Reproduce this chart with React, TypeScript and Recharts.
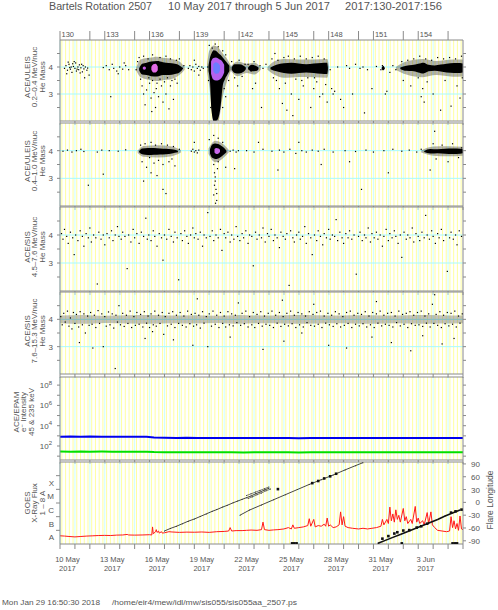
import React from 'react';
import { ComposedChart, Scatter, Area, Line, XAxis, YAxis, ReferenceLine } from 'recharts';

const FRAME = '#8a8a8a';
const TXT = '#555555';
const FONT = '"Liberation Sans", "DejaVu Sans", Arial, sans-serif';

// ---------- axis categories / tick labels ----------
const dayTicks = [130,131,132,133,134,135,136,137,138,139,140,141,142,143,144,145,146,147,148,149,150,151,152,153,154,155,156,157];
const topTickDays = [130,132,133,135,136,138,139,141,142,144,145,147,148,150,151,153,154,156];
const topLabelDays = [130,133,136,139,142,145,148,151,154];
const dateLabelDays = [130.5,133.5,136.5,139.5,142.5,145.5,148.5,151.5,154.5];
const dateLabelText = ['10 May','13 May','16 May','19 May','22 May','25 May','28 May','31 May','3 Jun'];
const massTicks = [2.5,3,3.5,4,4.5];
const massLabels = [3,4];
const epamTicks = [1e1,1e2,1e3,1e4,1e5,1e6,1e7,1e8];
const goesTicks = [0.5,1,1.5,2,2.5,3,3.5,4,4.5,5,5.5];
const goesLetterPos = [0.5,1.5,2.5,3.5,4.5];
const goesLetters = ['A','B','C','M','X'];
const lonTicks = [-90,-60,-30,0,30,60,90];

// background stripes (6-hourly yellow, daily cyan)
const yellowStripes: number[] = [];
const cyanStripes: number[] = [];
dayTicks.slice(0, 27).forEach((d) => {
  cyanStripes.push(d);
  [0.125, 0.375, 0.625, 0.875].forEach((f) => yellowStripes.push(d + f));
});

// ---------- Panel 1: ACE/ULEIS 0.2-0.4 MeV/nuc ----------
const ul1Cloud136 = [[135.3,3.88,3.95],[135.5,3.72,4.12],[135.8,3.7,4.16],[136.1,3.66,4.2],[136.5,3.65,4.22],[136.9,3.7,4.18],[137.3,3.7,4.15],[137.7,3.74,4.12],[138.0,3.8,4.06],[138.2,3.9,3.97]];
const ul1Halo136 = [[135.1,3.88,3.98],[135.4,3.62,4.28],[136.0,3.52,4.34],[136.5,3.48,4.38],[137.0,3.52,4.33],[137.5,3.56,4.3],[138.0,3.7,4.2],[138.35,3.9,4.0]];
const ul1Pink136 = [[136.12,3.9,4.0],[136.25,3.8,4.1],[136.4,3.8,4.12],[136.55,3.88,4.02]];
const ul1Pink135 = [[135.55,3.93,3.99],[135.65,3.9,4.02],[135.75,3.93,3.99]];
const ul1Cloud140 = [[139.95,3.85,4.05],[140.05,3.45,4.35],[140.15,2.4,4.5],[140.3,2.0,4.62],[140.45,2.0,4.6],[140.6,2.1,4.52],[140.75,2.5,4.45],[140.9,3.3,4.35],[141.05,3.55,4.25],[141.2,3.7,4.15],[141.35,3.85,4.05]];
const ul1Halo140 = [[139.85,3.85,4.08],[140.0,3.3,4.6],[140.3,2.0,4.8],[140.6,2.0,4.72],[140.9,2.9,4.5],[141.2,3.5,4.3],[141.45,3.86,4.05]];
const ul1Violet140 = [[140.12,3.75,4.2],[140.25,3.55,4.32],[140.45,3.5,4.35],[140.65,3.52,4.3],[140.85,3.62,4.22],[141.0,3.8,4.08]];
const ul1Blue140 = [[140.27,3.85,4.1],[140.42,3.75,4.18],[140.58,3.76,4.15],[140.72,3.88,4.05]];
const ul1Cloud142 = [[141.5,3.9,3.98],[141.7,3.78,4.1],[142.0,3.76,4.1],[142.3,3.82,4.05],[142.45,3.92,3.98]];
const ul1Cloud143 = [[142.6,3.92,3.98],[142.85,3.84,4.08],[143.1,3.85,4.05],[143.3,3.92,3.98]];
const ul1Halo142 = [[141.4,3.9,3.99],[141.9,3.66,4.2],[142.5,3.78,4.12],[143.0,3.72,4.16],[143.45,3.9,4.0]];
const ul1Cloud146 = [[144.1,3.92,3.98],[144.5,3.84,4.08],[145.0,3.78,4.14],[145.5,3.75,4.16],[146.0,3.78,4.13],[146.5,3.8,4.1],[147.0,3.78,4.13],[147.5,3.75,4.15],[147.9,3.74,4.16],[147.95,3.9,3.98]];
const ul1Halo146 = [[143.9,3.9,4.0],[144.4,3.7,4.22],[145.0,3.6,4.3],[146.0,3.63,4.28],[147.0,3.62,4.28],[147.9,3.6,4.3],[148.02,3.86,4.04]];
const ul1Cloud151 = [[151.55,3.93,3.97],[151.65,3.88,4.05],[151.75,3.93,3.98]];
const ul1Cloud155 = [[152.8,3.93,3.98],[153.2,3.86,4.05],[153.6,3.85,4.07],[154.0,3.8,4.12],[154.35,3.76,4.16],[154.7,3.84,4.08],[155.1,3.86,4.06],[155.5,3.83,4.09],[155.9,3.8,4.12],[156.4,3.78,4.15],[156.8,3.78,4.15],[157.0,3.8,4.13]];
const ul1Halo155 = [[152.5,3.9,4.0],[153.2,3.72,4.2],[154.3,3.62,4.3],[155.2,3.7,4.22],[156.3,3.64,4.28],[157.0,3.65,4.28]];
const ul1Points = [
  [130.3,3.95],[130.4,4.05],[130.5,3.88],[130.6,4.1],[130.7,3.92],[130.75,4.0],[130.8,3.8],[130.9,4.02],[131.0,3.95],[131.05,4.15],[131.1,3.85],[131.2,4.0],[131.25,3.9],[131.3,4.08],[131.4,3.97],[131.5,3.82],[131.55,4.05],[131.6,3.93],[131.7,4.0],[131.8,3.88],[130.45,3.75],[130.95,4.2],[131.35,3.78],[131.15,3.92],[130.65,3.98],[130.85,4.12],[131.45,4.1],[131.85,3.96],[131.95,3.7],[130.55,4.18],[131.65,3.6],
  [132.9,3.98],[133.1,4.05],[133.3,3.9],[133.5,4.1],[133.6,3.95],[133.8,3.85],[134.0,4.0],[134.2,3.92],[134.4,4.05],[134.6,3.9],[133.4,2.9],[134.3,4.15],[133.9,3.75],
  [135.1,3.9],[135.2,4.2],[135.3,4.35],[135.6,4.4],[135.9,4.3],[136.2,4.45],[136.7,4.35],[137.1,4.4],[137.4,4.3],[137.8,4.25],[138.0,4.3],[138.2,3.95],[138.3,4.05],
  [135.5,3.3],[135.6,3.0],[135.7,2.6],[135.8,3.15],[136.0,3.4],[136.1,2.85],[136.2,3.5],[136.3,3.05],[136.4,2.5],[136.45,3.2],[136.5,3.4],[136.6,2.9],[136.7,3.55],[136.8,3.3],[136.9,2.7],[137.0,3.45],[137.1,3.0],[137.2,3.6],[137.3,2.45],[137.4,3.3],[137.5,3.5],[137.6,2.8],[137.7,3.55],[136.15,2.35],[135.95,3.6],[136.55,3.7],[137.85,3.4],[135.4,3.55],
  [138.6,3.95],[138.7,4.05],[138.8,3.9],[138.9,4.0],[139.0,3.85],[139.1,4.1],[139.2,3.95],[139.3,4.02],[139.4,3.88],[139.5,4.0],[139.6,3.95],[139.0,4.25],[139.3,3.7],
  [140.0,4.8],[140.2,4.7],[140.4,4.85],[140.6,4.75],[140.9,4.6],[141.1,4.45],[139.9,4.0],[139.95,3.5],[141.0,3.2],[141.1,2.9],[140.1,2.5],[141.3,3.5],[140.9,2.5],
  [141.5,4.2],[141.7,3.6],[142.0,4.25],[142.2,3.65],[142.4,4.1],[141.9,3.3],
  [142.6,4.1],[142.8,3.85],[143.0,4.2],[143.2,3.9],[143.4,4.05],[143.6,3.95],[143.8,4.1],[143.5,2.5],[143.1,3.4],[142.9,3.2],
  [144.2,4.3],[144.6,4.25],[145.0,4.35],[145.3,4.4],[145.7,4.3],[146.1,4.4],[146.5,4.3],[146.9,4.35],[147.3,4.4],[147.7,4.3],
  [144.5,3.5],[144.7,3.2],[144.9,2.65],[145.1,3.4],[145.2,2.4],[145.5,3.0],[145.8,3.55],[146.0,2.8],[146.3,3.3],[146.6,3.6],[146.8,2.5],[147.0,3.2],[147.2,3.45],[147.4,2.9],[147.6,3.0],[147.8,3.35],[147.9,2.7],[145.6,2.2],[146.2,3.5],[147.05,3.6],[144.3,3.6],[144.4,4.5],
  [148.1,3.9],[148.3,3.0],[148.4,3.1],[148.6,4.0],[148.8,2.8],[149.2,4.05],[149.4,3.95],[149.6,3.0],[149.8,4.1],[150.1,3.95],[150.3,4.0],[150.6,3.9],[150.9,3.2],[151.2,4.02],[151.5,3.9],[151.6,4.05],[151.7,3.95],[151.8,3.0],[151.9,3.1],[152.1,3.8],[152.3,4.05],[152.5,3.9],[149.0,2.5],[150.4,2.3],[148.2,3.2],
  [152.9,4.2],[153.3,4.25],[153.7,4.3],[154.1,4.4],[154.5,4.3],[154.9,4.25],[155.3,4.35],[155.7,4.3],[156.1,4.35],[156.5,4.3],[156.9,4.4],
  [153.0,3.5],[153.5,3.3],[154.0,3.6],[154.2,2.9],[154.3,3.2],[154.4,2.7],[154.6,3.45],[155.0,3.0],[155.5,2.4],[155.8,3.5],[156.2,2.55],[156.6,3.3],[156.8,2.85],[156.95,3.6],
];

// ---------- Panel 2: ACE/ULEIS 0.4-1.0 MeV/nuc ----------
const ul2Cloud136 = [[135.3,3.94,3.99],[135.5,3.87,4.08],[135.9,3.84,4.1],[136.3,3.85,4.1],[136.7,3.86,4.08],[137.1,3.87,4.07],[137.5,3.9,4.05],[137.9,3.94,4.0]];
const ul2Halo136 = [[135.2,3.92,4.01],[135.6,3.78,4.17],[136.5,3.75,4.2],[137.5,3.8,4.15],[138.1,3.93,4.02]];
const ul2Cloud140 = [[140.05,3.9,4.05],[140.2,3.74,4.22],[140.4,3.7,4.26],[140.6,3.72,4.24],[140.8,3.78,4.18],[141.0,3.87,4.1],[141.15,3.94,4.0]];
const ul2Halo140 = [[139.95,3.88,4.08],[140.4,3.58,4.36],[140.9,3.72,4.25],[141.3,3.93,4.03]];
const ul2Violet140 = [[140.35,3.93,4.06],[140.48,3.88,4.1],[140.62,3.9,4.08],[140.72,3.95,4.03]];
const ul2Cloud155 = [[154.4,3.95,3.99],[154.8,3.9,4.06],[155.3,3.91,4.05],[155.8,3.89,4.07],[156.3,3.88,4.08],[156.8,3.89,4.07],[157.0,3.91,4.05]];
const ul2Halo155 = [[154.2,3.93,4.01],[155.0,3.82,4.15],[156.0,3.8,4.16],[157.0,3.82,4.14]];
const ul2Points = [
  [130.2,3.98],[130.5,4.02],[130.8,3.95],[131.1,4.0],[131.6,3.97],[132.5,3.95],[132.8,4.02],[133.3,4.0],[133.9,3.98],[134.4,4.03],[131.9,2.75],[132.9,3.15],[131.4,4.05],
  [135.4,4.2],[135.7,4.25],[136.1,4.3],[136.4,4.2],[136.8,4.25],[137.2,4.2],[137.6,4.15],[138.0,4.05],[135.5,3.6],[135.8,3.4],[136.0,3.75],[136.3,3.55],[136.5,3.1],[136.6,3.65],[136.9,3.5],[137.3,3.6],[137.5,3.7],[137.7,3.45],[135.6,2.9],[136.9,2.6],[137.1,2.45],[136.1,3.2],
  [138.8,3.98],[138.9,4.05],[139.0,3.95],[139.1,4.0],[139.2,3.92],[139.3,4.02],[139.0,4.3],
  [140.0,4.4],[140.3,4.55],[140.6,4.45],[140.9,4.3],[140.3,3.5],[140.35,3.2],[140.4,2.9],[140.45,2.6],[140.3,2.4],[140.5,2.2],[140.55,3.35],[140.4,3.05],[140.35,2.75],[140.6,3.6],[141.1,3.4],[140.42,2.1],[140.5,2.45],
  [141.4,3.98],[141.6,4.02],[141.8,3.95],[141.95,4.0],[141.7,3.35],
  [142.5,4.0],[143.0,3.95],[143.6,4.05],[144.2,3.98],[144.7,4.02],[145.0,3.95],[145.4,4.05],[145.8,3.9],[146.2,4.0],[146.5,3.95],[146.9,4.02],[147.3,3.98],[147.7,4.05],[148.3,3.95],[149.1,4.0],[149.8,3.97],[150.5,4.02],[151.0,3.95],[151.7,4.0],[152.3,4.05],[152.9,3.98],[153.4,4.02],[153.9,3.95],[154.2,4.05],
  [155.0,4.25],[155.6,4.2],[156.3,4.25],[155.2,3.7],[156.0,3.6],[156.7,3.75],[154.8,3.3],[144.6,3.3],[150.2,2.6],[147.5,3.5],[143.3,4.3],[152.0,3.2],[146.0,4.3],[149.4,3.6],[156.9,4.1],[155.1,4.7],
];

// ---------- Panel 3: ACE/SIS 4.5-7.6 MeV/nuc ----------
const sis1Points = [
  [130.1,4.05],[130.2,3.85],[130.3,4.2],[130.45,3.95],[130.55,3.7],[130.7,4.1],[130.85,3.9],[130.95,3.3],
  [131.05,4.0],[131.2,3.8],[131.35,4.15],[131.5,3.95],[131.6,3.6],[131.75,4.05],[131.9,3.9],
  [132.0,4.25],[132.1,3.75],[132.25,4.0],[132.4,3.9],[132.5,2.25],[132.6,4.1],[132.75,3.85],[132.9,4.0],
  [133.0,3.65],[133.15,4.05],[133.3,3.9],[133.45,4.15],[133.55,3.8],[133.7,4.0],[133.85,4.3],[133.95,3.95],
  [134.1,3.85],[134.2,4.1],[134.35,3.95],[134.5,2.8],[134.6,4.0],[134.75,3.75],[134.9,4.2],
  [135.0,3.9],[135.15,4.05],[135.3,3.7],[135.45,4.1],[135.6,3.95],[135.75,4.6],[135.85,3.85],[135.95,4.0],
  [136.1,3.8],[136.25,4.15],[136.35,3.95],[136.5,3.6],[136.65,4.05],[136.8,3.9],[136.9,3.1],
  [137.0,4.0],[137.15,3.85],[137.3,4.2],[137.45,3.95],[137.6,3.75],[137.7,4.1],[137.85,3.9],[137.95,2.4],
  [138.1,4.05],[138.2,3.8],[138.35,4.15],[138.5,3.95],[138.6,3.7],[138.75,4.0],[138.9,4.25],
  [139.0,3.9],[139.1,4.05],[139.25,3.85],[139.4,4.1],[139.55,3.6],[139.65,4.0],[139.8,3.9],[139.9,4.8],
  [140.05,3.95],[140.2,4.15],[140.3,3.8],[140.45,4.0],[140.6,3.9],[140.75,4.2],[140.85,3.45],
  [141.0,4.05],[141.1,3.9],[141.25,4.1],[141.4,3.75],[141.5,4.0],[141.65,3.85],[141.8,4.3],[141.9,3.95],
  [142.05,3.8],[142.2,4.05],[142.3,3.9],[142.45,4.15],[142.6,3.7],[142.7,4.0],[142.85,3.95],[142.95,2.9],
  [143.1,4.1],[143.2,3.85],[143.35,4.0],[143.5,3.9],[143.6,4.25],[143.75,3.75],[143.9,4.05],
  [144.0,3.95],[144.15,4.2],[144.3,3.8],[144.4,4.0],[144.55,3.9],[144.7,3.55],[144.8,4.1],[144.95,3.95],
  [145.1,3.85],[145.2,4.05],[145.35,2.2],[145.45,4.15],[145.6,3.9],[145.7,3.75],[145.85,4.0],
  [146.0,4.1],[146.1,3.85],[146.25,3.95],[146.4,4.3],[146.5,3.7],[146.65,4.05],[146.8,3.9],[146.9,3.3],
  [147.05,4.0],[147.2,3.8],[147.3,4.15],[147.45,3.95],[147.6,3.65],[147.7,4.05],[147.85,3.9],
  [148.0,4.2],[148.1,3.85],[148.25,4.0],[148.4,3.95],[148.5,4.55],[148.6,3.8],[148.75,4.1],[148.9,3.9],
  [149.0,3.7],[149.15,4.05],[149.3,3.9],[149.4,4.15],[149.55,3.85],[149.7,4.0],[149.85,2.6],
  [150.0,3.95],[150.1,4.1],[150.25,3.8],[150.4,4.0],[150.5,3.9],[150.65,4.25],[150.8,3.75],[150.9,4.05],
  [151.05,3.9],[151.2,4.1],[151.3,3.85],[151.45,4.0],[151.6,3.6],[151.7,3.95],[151.85,4.2],
  [152.0,3.8],[152.1,4.05],[152.25,3.9],[152.4,4.15],[152.5,3.95],[152.65,3.7],[152.8,4.0],[152.9,3.2],
  [153.05,4.1],[153.2,3.85],[153.3,4.0],[153.45,3.9],[153.6,4.25],[153.7,3.75],[153.85,4.05],
  [154.0,3.95],[154.1,3.8],[154.25,4.1],[154.4,3.9],[154.5,4.7],[154.6,4.0],[154.75,3.85],[154.9,4.15],
  [155.0,3.95],[155.15,3.7],[155.3,4.05],[155.4,3.9],[155.55,4.2],[155.7,3.8],[155.85,4.0],[155.95,2.7],
  [156.1,3.9],[156.2,4.1],[156.35,3.85],[156.5,4.0],[156.6,3.65],[156.75,4.15],[156.9,3.95],
];

// ---------- Panel 4: ACE/SIS 7.6-15.3 MeV/nuc ----------
const sis2Band = [[130,3.86,4.14],[131.5,3.84,4.16],[133,3.87,4.13],[134.5,3.85,4.15],[136,3.84,4.16],[137.5,3.86,4.14],[139,3.85,4.15],[140.5,3.87,4.13],[142,3.84,4.16],[143.5,3.86,4.14],[145,3.85,4.15],[146.5,3.84,4.16],[148,3.86,4.14],[149.5,3.85,4.15],[151,3.84,4.15],[152.5,3.86,4.14],[154,3.84,4.16],[155.5,3.85,4.15],[157,3.86,4.14]];
const sis2Points = [
  [130.05,4.1],[130.15,3.8],[130.25,4.22],[130.35,3.9],[130.5,4.3],[130.6,3.75],[130.7,4.05],[130.8,3.65],[130.9,4.25],
  [131.0,3.85],[131.1,4.18],[131.25,3.72],[131.35,4.28],[131.5,3.8],[131.6,4.2],[131.7,3.5],[131.85,4.12],[131.95,3.78],
  [132.05,4.25],[132.15,3.82],[132.3,4.15],[132.4,3.7],[132.55,4.32],[132.65,3.85],[132.8,4.2],[132.9,3.0],
  [133.0,4.1],[133.1,3.75],[133.25,4.27],[133.35,3.8],[133.5,4.2],[133.6,3.68],[133.75,4.15],[133.85,3.9],[133.95,4.5],
  [134.05,3.8],[134.2,4.22],[134.3,3.74],[134.45,4.15],[134.55,3.85],[134.7,4.3],[134.8,3.7],[134.95,4.1],
  [135.05,3.78],[135.15,4.25],[135.3,3.82],[135.4,4.18],[135.55,3.72],[135.65,4.28],[135.8,3.86],[135.9,4.12],
  [136.0,3.7],[136.1,4.2],[136.25,3.8],[136.35,4.3],[136.45,3.75],[136.6,4.15],[136.7,3.85],[136.85,4.25],[136.95,3.45],
  [137.05,4.1],[137.2,3.76],[137.3,4.22],[137.45,3.82],[137.55,4.28],[137.7,3.7],[137.8,4.15],[137.95,3.85],
  [138.05,4.25],[138.2,3.78],[138.3,4.12],[138.45,3.72],[138.55,4.3],[138.7,3.84],[138.8,4.18],[138.95,3.75],
  [139.05,4.22],[139.15,3.8],[139.3,4.15],[139.4,3.68],[139.55,4.28],[139.65,3.86],[139.8,4.1],[139.9,3.0],
  [140.0,4.2],[140.15,3.75],[140.25,4.3],[140.4,3.82],[140.5,4.15],[140.65,3.7],[140.75,4.25],[140.9,3.85],
  [141.0,4.12],[141.1,3.72],[141.25,4.28],[141.35,3.8],[141.5,4.2],[141.6,3.76],[141.75,4.15],[141.85,3.88],[141.95,4.6],
  [142.1,3.78],[142.2,4.22],[142.35,3.84],[142.45,4.3],[142.6,3.72],[142.7,4.1],[142.85,3.8],[142.95,4.25],
  [143.05,3.7],[143.2,4.18],[143.3,3.85],[143.45,4.28],[143.55,3.75],[143.7,4.12],[143.8,3.82],[143.95,4.22],
  [144.05,3.78],[144.2,4.3],[144.3,3.7],[144.45,4.15],[144.55,3.86],[144.7,4.25],[144.8,3.74],[144.95,4.1],
  [145.05,3.82],[145.2,4.22],[145.3,3.76],[145.45,4.3],[145.55,3.84],[145.7,4.15],[145.8,3.7],[145.95,4.25],
  [146.05,3.8],[146.2,4.2],[146.3,3.72],[146.45,4.12],[146.55,3.88],[146.7,4.28],[146.8,3.78],[146.95,4.18],
  [147.05,3.75],[147.2,4.25],[147.3,3.82],[147.45,4.3],[147.55,3.7],[147.7,4.12],[147.8,3.86],[147.95,4.22],
  [148.05,3.8],[148.2,4.15],[148.3,3.74],[148.45,4.28],[148.55,3.84],[148.7,4.2],[148.8,3.72],[148.95,4.1],
  [149.05,3.78],[149.2,4.25],[149.3,3.85],[149.45,4.3],[149.55,3.7],[149.7,4.15],[149.8,3.82],[149.95,4.22],
  [150.05,3.76],[150.2,4.18],[150.3,3.84],[150.45,4.28],[150.55,3.72],[150.7,4.12],[150.8,3.8],[150.95,4.25],
  [151.05,3.7],[151.2,4.2],[151.3,3.86],[151.45,4.3],[151.55,3.76],[151.7,4.15],[151.8,3.82],[151.95,4.22],
  [152.05,3.78],[152.2,4.25],[152.3,3.72],[152.45,4.12],[152.55,3.88],[152.7,4.3],[152.8,3.76],[152.95,4.18],
  [153.05,3.82],[153.2,4.22],[153.3,3.7],[153.45,4.28],[153.55,3.84],[153.7,4.15],[153.8,3.78],[153.95,4.25],
  [154.05,3.8],[154.2,4.3],[154.3,3.74],[154.45,4.12],[154.55,3.86],[154.7,4.2],[154.8,3.72],[154.95,4.55],
  [155.05,3.85],[155.2,4.18],[155.3,3.78],[155.45,4.28],[155.55,3.7],[155.7,4.15],[155.8,3.84],[155.95,4.25],
  [156.05,3.76],[156.2,4.22],[156.3,3.82],[156.45,4.3],[156.55,3.72],[156.7,4.12],[156.8,3.86],[156.95,4.2],
  [131.3,3.15],[132.2,2.95],[135.7,3.3],[137.6,3.25],[138.9,3.05],[141.4,3.35],[143.6,2.9],[145.0,3.2],[146.2,3.5],[148.0,3.05],[149.2,2.95],[150.9,3.35],[152.2,3.15],[153.5,2.85],[154.3,3.4],[155.6,3.1],[156.4,3.3],[139.2,4.75],[144.9,4.7],[151.2,4.65],[155.1,4.9],[147.0,4.55],[133.7,2.2],[136.2,3.55],
];

// ---------- Panel 5: ACE/EPAM electrons ----------
const epamDays = [130,130.7,131.4,132,132.8,133.5,134.2,135,135.8,136.3,137,137.8,138.5,139.2,140,140.8,141.5,142.3,143,143.8,144.5,145.3,146,146.8,147.5,148.3,149,149.8,150.5,151.3,152,152.8,153.5,154.3,155,155.8,156.5,157];
const epam45 = [830,850,820,840,815,830,820,825,800,700,650,630,640,615,630,610,620,600,610,620,600,610,595,605,615,600,610,620,605,610,620,600,615,625,605,615,610,605];
const epam235 = [28,27.5,28,27,28,27.5,27,27.5,27,25,24.5,24,24.5,24,24.5,24,24,23.5,24,24.5,24,24,23.5,24,24.5,24,24,24.5,24,24,24.5,24,24,24.5,24,24,24,24];

// ---------- Panel 6: GOES X-ray (decade index above 1e-9) and flare longitudes ----------
const xrayFlux = [
  [130.0,0.6],[130.3,0.58],[130.6,0.55],[131.0,0.52],[131.4,0.55],[131.8,0.58],[132.2,0.6],[132.6,0.62],[133.0,0.63],[133.4,0.62],[133.8,0.65],[134.2,0.66],[134.5,0.7],[134.6,0.66],[135.0,0.65],[135.5,0.66],[136.0,0.68],[136.15,0.66],[136.2,1.25],[136.25,0.75],[136.4,0.9],[136.45,1.05],[136.5,0.85],[136.6,0.95],[136.65,0.8],[136.8,0.9],[136.85,0.8],[137.0,0.82],[137.3,0.9],[137.5,0.88],[138.0,0.85],[138.5,0.87],[139.0,0.86],[139.5,0.88],[140.0,0.85],[140.5,0.9],[141.0,0.92],[141.3,0.95],[141.4,1.2],[141.5,0.95],[141.8,0.98],[142.2,0.98],[142.5,1.0],[142.8,1.02],[143.2,1.0],[143.5,1.05],[143.6,1.6],[143.7,1.05],[144.0,1.0],[144.3,1.03],[144.6,1.05],[145.0,1.1],[145.3,1.2],[145.5,1.1],[145.6,1.4],[145.7,1.15],[146.0,1.2],[146.3,1.25],[146.6,1.35],[146.7,1.85],[146.8,1.3],[147.0,1.8],[147.1,1.25],[147.3,1.35],[147.5,1.3],[147.7,1.45],[147.8,1.3],[147.9,1.9],[148.0,1.3],[148.1,1.4],[148.3,1.2],[148.5,1.25],[148.7,1.4],[148.8,2.35],[148.9,1.4],[149.0,2.0],[149.1,1.3],[149.3,1.2],[149.6,1.15],[150.0,1.1],[150.3,1.15],[150.6,1.1],[150.9,1.15],[151.2,1.2],[151.5,1.3],[151.6,1.8],[151.7,1.4],[151.9,1.8],[152.0,1.5],[152.1,2.7],[152.2,1.7],[152.3,2.2],[152.4,1.6],[152.5,2.5],[152.6,1.8],[152.7,2.1],[152.8,1.6],[153.0,2.6],[153.1,1.7],[153.2,2.0],[153.3,1.5],[153.5,1.8],[153.6,1.5],[153.8,2.75],[153.9,1.6],[154.0,1.9],[154.1,1.5],[154.3,1.7],[154.4,1.4],[154.6,2.3],[154.7,1.5],[154.85,2.35],[154.95,1.4],[155.1,1.2],[155.3,1.0],[155.6,0.95],[155.9,0.9],[156.1,0.95],[156.2,2.0],[156.3,1.2],[156.4,1.7],[156.5,1.1],[156.6,1.5],[156.7,1.0],[156.8,2.05],[156.9,1.1],[157.0,1.05],
];
const flareTrackA = [[137.0,-67],[137.4,-61],[137.8,-56],[138.2,-50],[138.6,-44],[139.0,-39],[139.4,-33],[139.8,-27],[140.2,-21],[140.5,-17],[140.9,-11],[141.2,-7],[141.6,-1],[141.9,3],[142.2,7],[142.5,11],[142.8,15],[143.1,20],[143.4,24],[143.7,29],[144.0,33]];
const flareTrackA2 = [[142.5,16],[142.8,20],[143.1,24],[143.4,28],[143.7,32],[144.0,36]];
const flareTrackA3 = [[142.6,9],[142.9,13],[143.2,18],[143.5,22],[143.8,27],[144.1,31]];
const flareTrackB = [[142.06,-30],[142.7,-18],[143.5,-6],[144.3,6],[145.1,18],[145.9,30],[146.7,42],[147.5,53],[148.3,64],[149.1,76],[149.8,86],[150.3,93]];
const flareTrackC = [[151.3,-96],[151.8,-89],[152.3,-82],[152.8,-75],[153.3,-68],[153.8,-61],[154.3,-54],[154.8,-47],[155.3,-40],[155.8,-32],[156.3,-25],[156.8,-18]];
const flareBlobs = [[144.6,31],[146.9,45],[147.3,50],[147.7,56],[148.1,61],[148.5,67],[151.6,-85],[152.0,-79],[152.4,-73],[152.6,-70],[153.0,-66],[153.4,-65],[153.9,-59],[154.2,-56],[154.6,-50],[156.2,-24],[156.5,-21],[156.9,-17],[145.55,-96],[145.7,-96],[145.85,-96],[152.9,-96],[156.3,-96],[156.45,-96],[156.6,-96]];

// ---------- helpers ----------
const toPts = (arr: number[][]) => arr.map(([d, v]) => ({ d, v }));
function mergeBands(parts: [string, number[][]][]) {
  const rows: any[] = [];
  parts.forEach(([k, arr]) => arr.forEach(([d, lo, hi]) => rows.push({ d, [k]: [lo, hi] })));
  rows.sort((a, b) => a.d - b.d);
  return rows;
}
const NoLabel = () => <g />;
const dot = (p: any) => <rect x={p.cx - 0.6} y={p.cy - 0.6} width={1.2} height={1.2} fill="#000" />;
const bigDot = (p: any) => <rect x={p.cx - 1.3} y={p.cy - 1.3} width={2.6} height={2.6} fill="#111" />;
const tinyDot = (p: any) => <circle cx={p.cx} cy={p.cy} r={0.5} fill="#222" />;

function bgLayer(yDomain: number[], scale: any, hLines: number[]) {
  return [
    <XAxis key="bx" dataKey="d" type="number" domain={[130, 157]} allowDataOverflow hide />,
    <YAxis key="by" type="number" scale={scale} domain={yDomain} allowDataOverflow hide />,
    ...cyanStripes.map((d) => <ReferenceLine key={'c' + d} x={d} stroke="#cdffff" strokeWidth={1} />),
    ...yellowStripes.map((d) => <ReferenceLine key={'y' + d} x={d} stroke="#ffffa0" strokeWidth={1} />),
    ...hLines.map((v) => <ReferenceLine key={'h' + v} y={v} stroke="#a8fbff" strokeWidth={1} />),
  ];
}

const TopTick = (props: any) => {
  const { x, y, payload } = props;
  const d = payload.value;
  return (
    <g>
      <line x1={x} x2={x} y1={y} y2={y - 9} stroke={FRAME} />
      {topLabelDays.includes(d) && (
        <text x={x + 1.5} y={y - 3.5} fontSize={7.5} fill={TXT} fontFamily={FONT}>{d}</text>
      )}
    </g>
  );
};

const DateTick = (props: any) => {
  const { x, y, payload } = props;
  const i = dateLabelDays.indexOf(payload.value);
  if (i < 0) return <line x1={x} x2={x} y1={y} y2={y + 5} stroke={FRAME} />;
  return (
    <g>
      <text x={x} y={y + 18} fontSize={7.5} fill={TXT} fontFamily={FONT} textAnchor="middle">{dateLabelText[i]}</text>
      <text x={x} y={y + 26.5} fontSize={7.5} fill={TXT} fontFamily={FONT} textAnchor="middle">2017</text>
    </g>
  );
};

const EpamTick = (props: any) => {
  const { x, y, payload } = props;
  const e = Math.round(Math.log10(payload.value));
  if (e % 2 !== 0) return <g />;
  return (
    <text x={x} y={y + 3} textAnchor="end" fontSize={8} fill={TXT} fontFamily={FONT}>
      10<tspan dy={-3.5} fontSize={6}>{e}</tspan>
    </text>
  );
};

const GoesTick = (props: any) => {
  const { x, y, payload } = props;
  const v = payload.value;
  const i = goesLetterPos.indexOf(v);
  if (i >= 0)
    return (
      <text x={x - 6} y={y + 3} textAnchor="end" fontSize={8} fill={TXT} fontFamily={FONT}>{goesLetters[i]}</text>
    );
  if (Number.isInteger(v)) return <line x1={x - 4} x2={x} y1={y} y2={y} stroke={FRAME} />;
  return <g />;
};

const LonTick = (props: any) => {
  const { x, y, payload } = props;
  return (
    <g>
      <line x1={x} x2={x + 3} y1={y} y2={y} stroke={FRAME} />
      <text x={x + 17} y={y + 3} textAnchor="end" fontSize={8} fill={TXT} fontFamily={FONT}>{payload.value}</text>
    </g>
  );
};

function xAxes(bottomTick: any, bottomTicks: number[], topTick: any) {
  return [
    <XAxis key="xb" xAxisId={0} dataKey="d" type="number" domain={[130, 157]} allowDataOverflow
      ticks={bottomTicks} interval={0} height={1} axisLine={{ stroke: FRAME }}
      tickLine={bottomTick ? false : { stroke: FRAME }} tickSize={bottomTick ? 0 : 4} tickMargin={0}
      tick={bottomTick || NoLabel} />,
    <XAxis key="xt" xAxisId="top" orientation="top" dataKey="d" type="number" domain={[130, 157]} allowDataOverflow
      ticks={topTickDays} interval={0} height={1} axisLine={{ stroke: FRAME }}
      tickLine={false} tickSize={0} tickMargin={0} tick={topTick || NoLabel} />,
  ];
}

function massAxes() {
  return [
    <YAxis key="yl" yAxisId={0} dataKey="v" type="number" domain={[2, 5]} allowDataOverflow ticks={massTicks}
      interval={0} width={1} axisLine={{ stroke: FRAME }} tickLine={{ stroke: FRAME }} tickSize={3} tickMargin={4}
      tick={{ fontSize: 8, fill: TXT, fontFamily: FONT }}
      tickFormatter={(v: number) => (massLabels.includes(v) ? String(v) : '')} />,
    <YAxis key="yr" yAxisId="r" orientation="right" dataKey="v" type="number" domain={[2, 5]} allowDataOverflow
      ticks={massTicks} interval={0} width={1} axisLine={{ stroke: FRAME }} tickLine={{ stroke: FRAME }}
      tickSize={3} tick={NoLabel} />,
  ];
}

function bandAreas(keys: [string, string, number][]) {
  return keys.map(([k, color, op]) => (
    <Area key={k} dataKey={k} type="monotone" stroke="none" fill={color} fillOpacity={op}
      connectNulls dot={false} activeDot={false} isAnimationActive={false} />
  ));
}

function Panel(props: any) {
  const { top, h, mt, mb, data, bg, children } = props;
  const height = h + mt + mb;
  const bgMargin = { top: mt, right: 35, bottom: mb, left: 60 };
  const fgMargin = { top: mt - 1, right: 34, bottom: mb - 1, left: 59 };
  return (
    <div style={{ position: 'absolute', left: 0, top: top - mt, width: 498, height }}>
      <div style={{ position: 'absolute', left: 0, top: 0 }}>
        <ComposedChart width={498} height={height} margin={bgMargin} data={[{ d: 130 }, { d: 157 }]}>
          {bg}
        </ComposedChart>
      </div>
      <div style={{ position: 'absolute', left: 0, top: 0 }}>
        <ComposedChart width={498} height={height} margin={fgMargin} data={data}>
          {children}
        </ComposedChart>
      </div>
    </div>
  );
}

const MASS_TITLE_X = [27, 34.5, 42];
const EPAM_TITLE_X = [16, 23.5, 31];

function yTitle(key: string, lines: React.ReactNode[], yc: number, xs: number[]) {
  return lines.map((s, i) => (
    <text key={key + i} x={xs[i]} y={yc} dy="0.35em" textAnchor="middle" fontSize={8}
      transform={`rotate(-90 ${xs[i]} ${yc})`}>{s}</text>
  ));
}

const p1Data = mergeBands([
  ['h1', ul1Halo136], ['h2', ul1Halo140], ['h3', ul1Halo142], ['h4', ul1Halo146], ['h5', ul1Halo155],
  ['k1', ul1Cloud136], ['k2', ul1Cloud140], ['k3', ul1Cloud142], ['k4', ul1Cloud143], ['k5', ul1Cloud146],
  ['k6', ul1Cloud151], ['k7', ul1Cloud155], ['p1', ul1Pink136], ['p2', ul1Pink135], ['v1', ul1Violet140], ['u1', ul1Blue140],
]);
const p2Data = mergeBands([
  ['h1', ul2Halo136], ['h2', ul2Halo140], ['h3', ul2Halo155],
  ['k1', ul2Cloud136], ['k2', ul2Cloud140], ['k3', ul2Cloud155], ['v1', ul2Violet140],
]);
const p4Data = mergeBands([['g1', sis2Band]]);
const p5Data = epamDays.map((d, i) => ({ d, blue: epam45[i], green: epam235[i] }));
const p6Data = toPts(xrayFlux);

const EPAM_DOMAIN = [4.17, 6.31e8];
const LON_DOMAIN = [-97.5, 94.5];
const HALO = 0.3;

export default function App() {
  return (
    <div style={{ position: 'absolute', left: 0, top: 0, width: 498, height: 610, background: '#fff', overflow: 'hidden' }}>
      <Panel top={40} h={81} mt={40} mb={7} data={p1Data} bg={bgLayer([2, 5], 'linear', [3, 4])}>
        {bandAreas([
          ['h1', '#000', HALO], ['h2', '#000', HALO], ['h3', '#000', HALO], ['h4', '#000', HALO], ['h5', '#000', HALO],
          ['k1', '#000', 1], ['k2', '#000', 1], ['k3', '#000', 1], ['k4', '#000', 1], ['k5', '#000', 1], ['k6', '#000', 1], ['k7', '#000', 1],
          ['p1', '#e36be6', 1], ['p2', '#c85fe8', 1], ['v1', '#b661ee', 1], ['u1', '#6b7dff', 1],
        ])}
        <Scatter data={toPts(ul1Points)} dataKey="v" shape={dot} isAnimationActive={false} />
        {xAxes(null, dayTicks, TopTick)}
        {massAxes()}
      </Panel>

      <Panel top={123} h={83} mt={2} mb={7} data={p2Data} bg={bgLayer([2, 5], 'linear', [3, 4])}>
        {bandAreas([
          ['h1', '#000', HALO], ['h2', '#000', HALO], ['h3', '#000', HALO],
          ['k1', '#000', 1], ['k2', '#000', 1], ['k3', '#000', 1], ['v1', '#c867e8', 1],
        ])}
        <Scatter data={toPts(ul2Points)} dataKey="v" shape={dot} isAnimationActive={false} />
        {xAxes(null, dayTicks, null)}
        {massAxes()}
      </Panel>

      <Panel top={207} h={84} mt={2} mb={7} data={[{ d: 130 }, { d: 157 }]} bg={bgLayer([2, 5], 'linear', [3, 4])}>
        <Scatter data={toPts(sis1Points)} dataKey="v" shape={dot} isAnimationActive={false} />
        {xAxes(null, dayTicks, null)}
        {massAxes()}
      </Panel>

      <Panel top={292} h={82} mt={2} mb={7} data={p4Data} bg={bgLayer([2, 5], 'linear', [3, 4])}>
        {bandAreas([['g1', '#333', 0.3]])}
        <Scatter data={toPts(sis2Points)} dataKey="v" shape={dot} isAnimationActive={false} />
        {xAxes(null, dayTicks, null)}
        {massAxes()}
      </Panel>

      <Panel top={377} h={83} mt={2} mb={7} data={p5Data} bg={bgLayer(EPAM_DOMAIN, 'log', [])}>
        <Line dataKey="green" stroke="#00e000" strokeWidth={2} dot={false} activeDot={false} isAnimationActive={false} />
        <Line dataKey="blue" stroke="#0000ee" strokeWidth={2} dot={false} activeDot={false} isAnimationActive={false} />
        {xAxes(null, dayTicks, null)}
        <YAxis yAxisId={0} type="number" scale="log" domain={EPAM_DOMAIN} allowDataOverflow ticks={epamTicks}
          interval={0} width={1} axisLine={{ stroke: FRAME }} tickLine={{ stroke: FRAME }} tickSize={3} tickMargin={5}
          tick={EpamTick} />
        <YAxis yAxisId="r" orientation="right" type="number" scale="log" domain={EPAM_DOMAIN} allowDataOverflow
          ticks={epamTicks} interval={0} width={1} axisLine={{ stroke: FRAME }} tickLine={{ stroke: FRAME }}
          tickSize={3} tick={NoLabel} />
      </Panel>

      <Panel top={462} h={82} mt={2} mb={40} data={p6Data} bg={bgLayer([0, 6], 'linear', [])}>
        <Line dataKey="v" stroke="#ff1a1a" strokeWidth={1} dot={false} activeDot={false} isAnimationActive={false} />
        <Scatter yAxisId="lon" data={toPts(flareTrackA)} dataKey="v" shape={tinyDot} line={{ stroke: '#333', strokeWidth: 0.9 }} isAnimationActive={false} />
        <Scatter yAxisId="lon" data={toPts(flareTrackA2)} dataKey="v" shape={tinyDot} line={{ stroke: '#444', strokeWidth: 0.7 }} isAnimationActive={false} />
        <Scatter yAxisId="lon" data={toPts(flareTrackA3)} dataKey="v" shape={tinyDot} line={{ stroke: '#444', strokeWidth: 0.7 }} isAnimationActive={false} />
        <Scatter yAxisId="lon" data={toPts(flareTrackB)} dataKey="v" shape={tinyDot} line={{ stroke: '#333', strokeWidth: 0.9 }} isAnimationActive={false} />
        <Scatter yAxisId="lon" data={toPts(flareTrackC)} dataKey="v" shape={tinyDot} line={{ stroke: '#111', strokeWidth: 1.6 }} isAnimationActive={false} />
        <Scatter yAxisId="lon" data={toPts(flareBlobs)} dataKey="v" shape={bigDot} isAnimationActive={false} />
        {xAxes(DateTick, [...dayTicks, ...dateLabelDays].sort((a, b) => a - b), null)}
        <YAxis yAxisId={0} dataKey="v" type="number" domain={[0, 6]} allowDataOverflow ticks={goesTicks} interval={0}
          width={1} axisLine={{ stroke: FRAME }} tickLine={false} tickSize={0} tickMargin={0} tick={GoesTick} />
        <YAxis yAxisId="lon" orientation="right" dataKey="v" type="number" domain={LON_DOMAIN} allowDataOverflow
          ticks={lonTicks} interval={0} width={1} axisLine={{ stroke: FRAME }} tickLine={false} tickSize={0}
          tickMargin={0} tick={LonTick} />
      </Panel>

      <svg width={498} height={610} style={{ position: 'absolute', left: 0, top: 0, pointerEvents: 'none' }}
        fontFamily={FONT} fill={TXT}>
        <text x={49} y={9.5} fontSize={10} textLength={103} lengthAdjust="spacingAndGlyphs">Bartels Rotation 2507</text>
        <text x={168} y={9.5} fontSize={10} textLength={162} lengthAdjust="spacingAndGlyphs">10 May 2017 through 5 Jun 2017</text>
        <text x={345} y={9.5} fontSize={10} textLength={97} lengthAdjust="spacingAndGlyphs">2017:130-2017:156</text>
        {yTitle('a', ['ACE/ULEIS', '0.2–0.4 MeV/nuc', 'He Mass'], 77, MASS_TITLE_X)}
        {yTitle('b', ['ACE/ULEIS', '0.4–1.0 MeV/nuc', 'He Mass'], 161, MASS_TITLE_X)}
        {yTitle('c', ['ACE/SIS', '4.5–7.6 MeV/nuc', 'He Mass'], 247, MASS_TITLE_X)}
        {yTitle('d', ['ACE/SIS', '7.6–15.3 MeV/nuc', 'He Mass'], 331, MASS_TITLE_X)}
        {yTitle('e', ['ACE/EPAM', <>e<tspan dy={-2.5} fontSize={6}>−</tspan><tspan dy={2.5}> Intensity</tspan></>, '45 & 235 keV'], 412, EPAM_TITLE_X)}
        {yTitle('f', ['GOES', 'X-Ray Flux', '1 – 8 A'], 503, MASS_TITLE_X)}
        <text x={490} y={500} dy="0.35em" textAnchor="middle" fontSize={8.5} transform="rotate(-90 490 500)">Flare Longitude</text>
        <text x={2} y={604.5} fontSize={7.5} textLength={98} lengthAdjust="spacingAndGlyphs">Mon Jan 29 16:50:30 2018</text>
        <text x={112} y={604.5} fontSize={7.5} textLength={185} lengthAdjust="spacingAndGlyphs">/home/eir4/mew/idl/mw/sis055/sis055aa_2507.ps</text>
      </svg>
    </div>
  );
}
